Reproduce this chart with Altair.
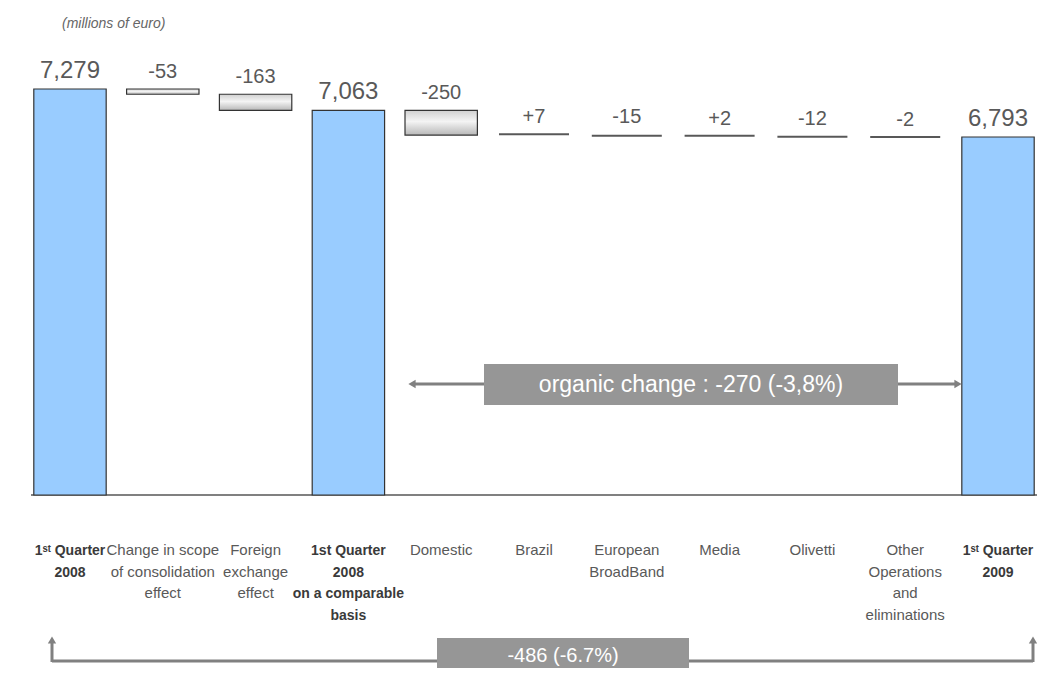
import altair as alt
import pandas as pd

# ---------------- data ----------------
keys = ["q1_2008", "scope", "fx", "q1_2008_comp", "domestic", "brazil",
        "ebb", "media", "olivetti", "other", "q1_2009"]
cat_labels = [
    "1ˢᵗ Quarter|2008",
    "Change in scope|of consolidation|effect",
    "Foreign|exchange|effect",
    "1st Quarter|2008|on a comparable|basis",
    "Domestic",
    "Brazil",
    "European|BroadBand",
    "Media",
    "Olivetti",
    "Other|Operations|and|eliminations",
    "1ˢᵗ Quarter|2009",
]
values = [7279, -53, -163, 7063, -250, 7, -15, 2, -12, -2, 6793]
kinds = ["total", "delta", "delta", "total", "delta", "delta",
         "delta", "delta", "delta", "delta", "total"]
value_text = ["7,279", "-53", "-163", "7,063", "-250", "+7", "-15", "+2",
              "-12", "-2", "6,793"]
bold_label = [True, False, False, True, False, False, False, False, False, False, True]

organic_text = "organic change : -270 (-3,8%)"
total_text = "-486 (-6.7%)"
subtitle = "(millions of euro)"

# ---------------- layout / scales ----------------
W, H = 1029, 660
BASE = 3170           # value at which the axis baseline sits (broken axis)
K = 0.0988            # px per million euro
Y_MAX = 7279 + 81 / K
Y_MIN = BASE - (H - 487) / K

rows = []
running = None
for key, lab, v, k, vt, b in zip(keys, cat_labels, values, kinds, value_text, bold_label):
    if k == "total":
        start, end = BASE, v
        running = v
        style = "total"
    else:
        start, end = running, running + v
        running = end
        style = "float" if abs(v) >= 50 else "line"
    rows.append(dict(key=key, label=lab, value=v, kind=k, vtext=vt, bold=b,
                     start=start, end=end, top=max(start, end), style=style))
df = pd.DataFrame(rows)

xscale = alt.Scale(domain=keys, range=[25.8, 1026.2], paddingInner=0.22, paddingOuter=0)
yscale = alt.Scale(domain=[Y_MIN, Y_MAX], zero=False, nice=False)
X = alt.X("key:N", scale=xscale, axis=None)

base = alt.Chart(df)

total_bars = base.transform_filter(alt.datum.style == "total").mark_bar(
    fill="#99CCFF", stroke="#333333", strokeWidth=1.2
).encode(x=X, y=alt.Y("start:Q", scale=yscale, axis=None), y2="end:Q")

grad = alt.LinearGradient(
    gradient="linear",
    stops=[alt.GradientStop(color="#d0d0d0", offset=0),
           alt.GradientStop(color="#f4f4f4", offset=0.45),
           alt.GradientStop(color="#b8b8b8", offset=1)],
    x1=0, x2=0, y1=0, y2=1,
)
float_bars = base.transform_filter(alt.datum.style == "float").mark_bar(
    fill=grad, stroke="#333333", strokeWidth=1.2
).encode(x=X, y=alt.Y("start:Q", scale=yscale, axis=None), y2="end:Q")

lines = base.transform_filter(alt.datum.style == "line").mark_tick(
    orient="horizontal", size=70, thickness=2, color="#111111"
).encode(x=X, y=alt.Y("end:Q", scale=yscale, axis=None))

total_vals = base.transform_filter(alt.datum.kind == "total").mark_text(
    baseline="alphabetic", dy=-11, fontSize=24, font="Liberation Sans", color="#595959"
).encode(x=X, y=alt.Y("top:Q", scale=yscale, axis=None), text="vtext:N")

delta_vals = base.transform_filter(alt.datum.kind == "delta").mark_text(
    baseline="alphabetic", dy=-11, fontSize=20, font="Liberation Sans", color="#595959"
).encode(x=X, y=alt.Y("top:Q", scale=yscale, axis=None), text="vtext:N")

baseline_rule = alt.Chart(pd.DataFrame({"b": [BASE]})).mark_rule(
    color="#808080", strokeWidth=2
).encode(x=alt.value(23), x2=alt.value(1037), y=alt.Y("b:Q", scale=yscale, axis=None))

cat_normal = base.transform_filter(alt.datum.bold == False).transform_calculate(
    lines="split(datum.label, '|')"
).mark_text(
    baseline="top", fontSize=15, lineHeight=21.5, font="Liberation Sans", color="#595959"
).encode(x=X, y=alt.value(535), text="lines:N")

cat_bold = base.transform_filter(alt.datum.bold == True).transform_calculate(
    lines="split(datum.label, '|')"
).mark_text(
    baseline="top", fontSize=14, lineHeight=21.5, font="Liberation Sans",
    fontWeight="bold", color="#3a3a3a"
).encode(x=X, y=alt.value(536), text="lines:N")

one = alt.Chart(pd.DataFrame({"_": [0]}))
ARROW = "#808080"

sub = one.mark_text(align="left", baseline="alphabetic", fontSize=14, fontStyle="italic",
                    font="Liberation Sans", color="#666666").encode(
    x=alt.value(54), y=alt.value(20), text=alt.value(subtitle))

# organic change annotation
org_line_l = one.mark_rule(color=ARROW, strokeWidth=3).encode(
    x=alt.value(405), x2=alt.value(476), y=alt.value(376))
org_line_r = one.mark_rule(color=ARROW, strokeWidth=3).encode(
    x=alt.value(890), x2=alt.value(948), y=alt.value(376))
org_head_l = one.mark_point(shape="triangle-left", filled=True, size=70, color=ARROW, opacity=1).encode(
    x=alt.value(404), y=alt.value(376))
org_head_r = one.mark_point(shape="triangle-right", filled=True, size=70, color=ARROW, opacity=1).encode(
    x=alt.value(950), y=alt.value(376))
org_box = one.mark_rect(fill="#969696").encode(
    x=alt.value(476), x2=alt.value(890), y=alt.value(356), y2=alt.value(397))
org_txt = one.mark_text(fontSize=23, font="Liberation Sans", color="white").encode(
    x=alt.value(683), y=alt.value(377), text=alt.value(organic_text))

# total change annotation
tot_h = one.mark_rule(color=ARROW, strokeWidth=3).encode(
    x=alt.value(44), x2=alt.value(1025), y=alt.value(653))
tot_vl = one.mark_rule(color=ARROW, strokeWidth=3).encode(
    x=alt.value(44), y=alt.value(634), y2=alt.value(654))
tot_vr = one.mark_rule(color=ARROW, strokeWidth=3).encode(
    x=alt.value(1025), y=alt.value(634), y2=alt.value(654))
tot_head_l = one.mark_point(shape="triangle-up", filled=True, size=70, color=ARROW, opacity=1).encode(
    x=alt.value(44), y=alt.value(632))
tot_head_r = one.mark_point(shape="triangle-up", filled=True, size=70, color=ARROW, opacity=1).encode(
    x=alt.value(1025), y=alt.value(632))
tot_box = one.mark_rect(fill="#969696").encode(
    x=alt.value(429), x2=alt.value(681), y=alt.value(630), y2=alt.value(672))
tot_txt = one.mark_text(fontSize=20, font="Liberation Sans", color="white").encode(
    x=alt.value(555), y=alt.value(648), text=alt.value(total_text))

chart = alt.layer(
    baseline_rule, total_bars, float_bars, lines, total_vals, delta_vals,
    cat_normal, cat_bold, sub,
    org_line_l, org_line_r, org_head_l, org_head_r, org_box, org_txt,
    tot_h, tot_vl, tot_vr, tot_head_l, tot_head_r, tot_box, tot_txt,
).properties(
    width=W, height=H, padding=0,
    autosize=alt.AutoSizeParams(type="none"),
).configure_view(stroke=None)

chart.save("out.html", embed_options={"renderer": "svg", "actions": False})
